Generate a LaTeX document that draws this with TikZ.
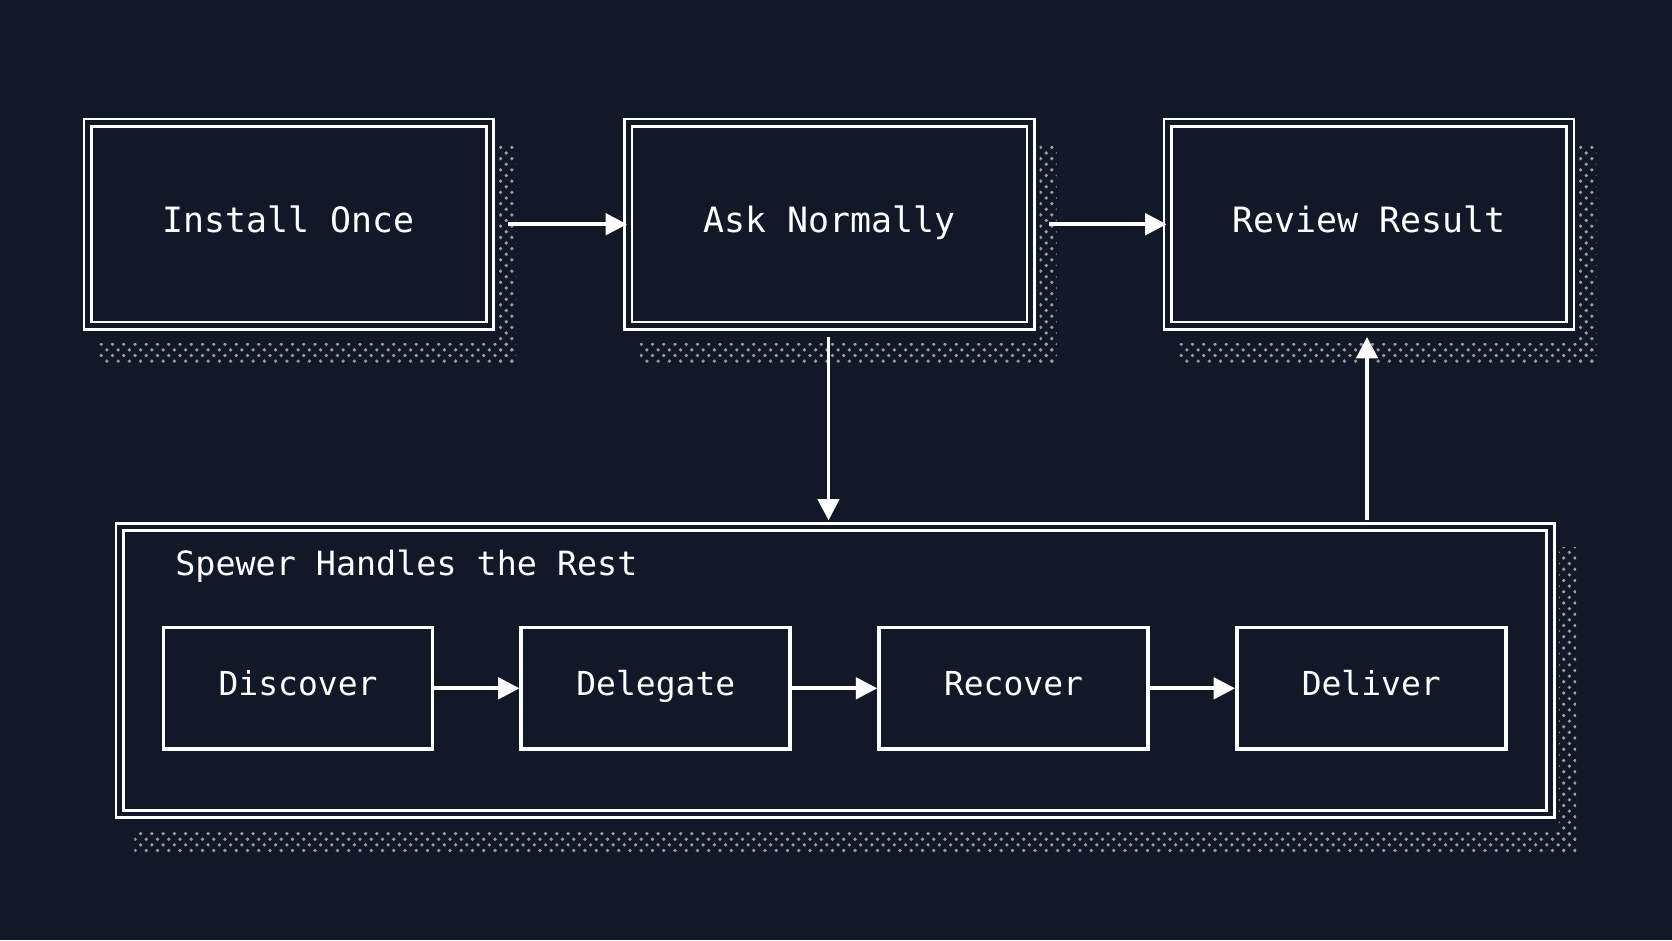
\documentclass[tikz,border=0pt]{standalone}
\usepackage{fontspec}
\setmonofont{DejaVu Sans Mono}
\usetikzlibrary{positioning,patterns,arrows.meta}
\definecolor{bgnavy}{HTML}{111827}
\tikzset{
  stepbox/.style={draw=white,double=bgnavy,double distance=0.045cm,line width=0.025cm,fill=bgnavy},
  subbox/.style={draw=white,line width=0.035cm,fill=bgnavy,minimum width=2.52cm,minimum height=1.14cm,font=\ttfamily\fontsize{8.8}{10}\selectfont,text=white},
  shade/.style={pattern=crosshatch dots,pattern color=gray!80},
  flow/.style={draw=white,line width=0.035cm,-{Triangle[length=0.2cm,width=0.2cm]}}
}
\begin{document}
\begin{tikzpicture}[x=0.01cm,y=-0.01cm]
\fill[bgnavy] (0,0) rectangle (1568,882);
\useasboundingbox (0,0) rectangle (1568,882);
% top row
\foreach \xx/\nm/\txt in {77/install/Install Once,584/ask/Ask Normally,1090/review/Review Result}{
  \fill[shade] (\xx+16,322) rectangle (\xx+407,340);
  \fill[shade] (\xx+391,136) rectangle (\xx+407,340);
  \node[stepbox,minimum width=3.77cm,minimum height=1.90cm,anchor=north west,
    font=\ttfamily\fontsize{9.3}{11}\selectfont,text=white] (\nm) at (\xx+4,114) {\strut\txt};
}
% bottom frame
\fill[shade] (126,780) rectangle (1478,800);
\fill[shade] (1462,513) rectangle (1478,800);
\node[stepbox,minimum width=13.41cm,minimum height=2.69cm,anchor=north west] (rest) at (111,493) {};
\node[anchor=west,font=\ttfamily\fontsize{8.9}{11}\selectfont,text=white] (resttitle) at (152,531) {Spewer Handles the Rest};
\node[subbox] (discover) at (279.5,645.5) {\strut Discover};
\node[subbox] (delegate) at (615,645.5) {\strut Delegate};
\node[subbox] (recover) at (950.5,645.5) {\strut Recover};
\node[subbox] (deliver) at (1286,645.5) {\strut Deliver};
% connectors
\coordinate (askout) at (777,316);
\coordinate (restin) at (777,488);
\coordinate (restout) at (1282,488);
\coordinate (reviewin) at (1282,316);
\draw[flow] (install.east) ++(16,0) -- (ask.west);
\draw[flow] (ask.east) ++(16,0) -- (review.west);
\draw[flow] (askout) -- (restin);
\draw[flow] (restout) -- (reviewin);
\draw[flow] (discover) -- (delegate);
\draw[flow] (delegate) -- (recover);
\draw[flow] (recover) -- (deliver);
\end{tikzpicture}
\end{document}
